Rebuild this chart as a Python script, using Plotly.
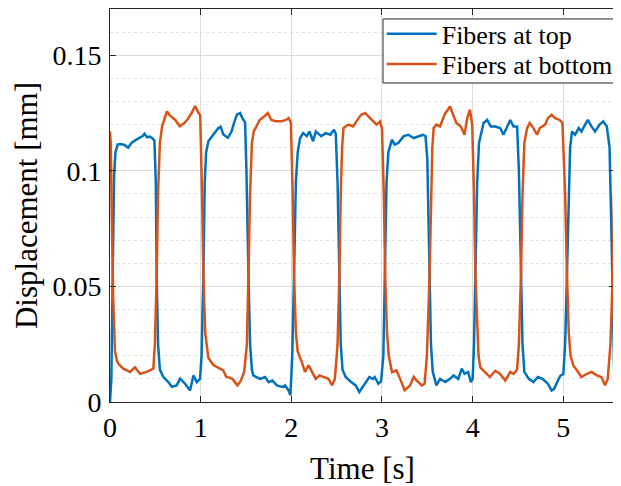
import plotly.graph_objects as go

# ---- data ----
t_top = [0.000, 0.015, 0.030, 0.045, 0.060, 0.085, 0.12, 0.16, 0.20, 0.24, 0.29, 0.33, 0.36, 0.38, 0.41, 0.44, 0.47, 0.49,
         0.505, 0.515, 0.53, 0.55, 0.589, 0.644, 0.681, 0.736, 0.773, 0.828, 0.883, 0.92, 0.957, 0.993,
         1.01, 1.03, 1.045, 1.06, 1.085, 1.14, 1.196, 1.22, 1.25, 1.30, 1.34, 1.37, 1.40, 1.435, 1.46, 1.49,
         1.505, 1.527, 1.545, 1.565, 1.58, 1.656, 1.71, 1.75, 1.79, 1.84, 1.90, 1.93, 1.97, 1.99,
         2.01, 2.03, 2.05, 2.07, 2.097, 2.13, 2.17, 2.20, 2.24, 2.27, 2.33, 2.38, 2.43, 2.47, 2.49,
         2.51, 2.53, 2.545, 2.565, 2.60, 2.66, 2.71, 2.75, 2.80, 2.86, 2.90, 2.92, 2.96, 2.99,
         3.015, 3.035, 3.05, 3.07, 3.11, 3.14, 3.18, 3.24, 3.29, 3.35, 3.40, 3.45, 3.48,
         3.50, 3.525, 3.54, 3.56, 3.60, 3.64, 3.70, 3.75, 3.79, 3.84, 3.88, 3.91, 3.95, 3.98,
         4.00, 4.015, 4.03, 4.05, 4.07, 4.12, 4.16, 4.20, 4.25, 4.305, 4.34, 4.38, 4.415, 4.45, 4.49,
         4.51, 4.533, 4.55, 4.57, 4.62, 4.67, 4.72, 4.77, 4.83, 4.87, 4.90, 4.94, 4.97,
         5.00, 5.02, 5.04, 5.06, 5.075, 5.096, 5.13, 5.17, 5.20, 5.24, 5.27, 5.31, 5.35, 5.40, 5.44, 5.48,
         5.51, 5.53, 5.545, 5.56, 5.58, 5.60]
d_top = [0.000, 0.010, 0.055, 0.098, 0.108, 0.1114, 0.1116, 0.1112, 0.1100, 0.1122, 0.1135, 0.1143, 0.1150, 0.1160, 0.1145, 0.1148, 0.1140, 0.1130,
         0.095, 0.055, 0.025, 0.014, 0.0108, 0.0086, 0.0066, 0.0072, 0.0101, 0.0079, 0.0050, 0.0115, 0.0086, 0.0100,
         0.020, 0.055, 0.095, 0.108, 0.1128, 0.1157, 0.1185, 0.1190, 0.1157, 0.1143, 0.1170, 0.1210, 0.1243, 0.1250, 0.1228, 0.1210,
         0.100, 0.055, 0.025, 0.014, 0.0115, 0.0100, 0.0108, 0.0086, 0.0093, 0.0072, 0.0065, 0.0072, 0.0050, 0.0029,
         0.020, 0.055, 0.095, 0.108, 0.1142, 0.1163, 0.1150, 0.1170, 0.1128, 0.1170, 0.1150, 0.1163, 0.1156, 0.1178, 0.1160,
         0.095, 0.055, 0.025, 0.014, 0.0108, 0.0086, 0.0072, 0.0043, 0.0072, 0.0108, 0.0100, 0.0108, 0.0079, 0.0090,
         0.020, 0.055, 0.095, 0.108, 0.1135, 0.1113, 0.1120, 0.1150, 0.1156, 0.1142, 0.1150, 0.1156, 0.1150,
         0.105, 0.055, 0.025, 0.013, 0.0072, 0.0100, 0.0086, 0.0100, 0.0115, 0.0100, 0.0144, 0.0122, 0.0130, 0.0086,
         0.010, 0.025, 0.055, 0.095, 0.112, 0.1207, 0.1220, 0.1192, 0.1192, 0.1185, 0.1156, 0.1192, 0.1220, 0.1192, 0.1192,
         0.100, 0.055, 0.025, 0.013, 0.0100, 0.0086, 0.0108, 0.0100, 0.0079, 0.0050, 0.0057, 0.0093, 0.0115,
         0.012, 0.025, 0.055, 0.095, 0.110, 0.1170, 0.1156, 0.1185, 0.1170, 0.1200, 0.1220, 0.1192, 0.1170, 0.1200, 0.1214, 0.1192,
         0.110, 0.075, 0.040, 0.015, 0.006, 0.007]

t_bot = [0.000, 0.008, 0.020, 0.035, 0.055, 0.075, 0.092, 0.147, 0.221, 0.276, 0.331, 0.405, 0.478,
         0.495, 0.515, 0.53, 0.55, 0.575, 0.628, 0.66, 0.72, 0.77, 0.82, 0.86, 0.90, 0.938, 0.97, 0.995,
         1.015, 1.03, 1.05, 1.07, 1.085, 1.14, 1.20, 1.25, 1.28, 1.35, 1.405, 1.44, 1.48,
         1.51, 1.527, 1.545, 1.565, 1.585, 1.616, 1.65, 1.70, 1.74, 1.78, 1.83, 1.89, 1.94, 1.97, 1.995,
         2.015, 2.03, 2.05, 2.07, 2.116, 2.15, 2.19, 2.22, 2.27, 2.31, 2.36, 2.41, 2.45, 2.48,
         2.51, 2.53, 2.545, 2.56, 2.575, 2.63, 2.68, 2.72, 2.77, 2.815, 2.87, 2.90, 2.94, 2.98, 3.00,
         3.02, 3.035, 3.055, 3.075, 3.11, 3.16, 3.20, 3.25, 3.31, 3.35, 3.38, 3.44, 3.47,
         3.495, 3.525, 3.54, 3.555, 3.57, 3.60, 3.64, 3.69, 3.75, 3.78, 3.82, 3.87, 3.91, 3.94, 3.97, 3.995,
         4.015, 4.03, 4.05, 4.065, 4.084, 4.14, 4.19, 4.25, 4.30, 4.36, 4.415, 4.45, 4.49,
         4.51, 4.533, 4.55, 4.57, 4.60, 4.63, 4.67, 4.71, 4.74, 4.80, 4.83, 4.87, 4.91, 4.96, 4.99,
         5.02, 5.04, 5.06, 5.08, 5.11, 5.15, 5.20, 5.26, 5.31, 5.37, 5.42, 5.46, 5.49,
         5.52, 5.545, 5.56, 5.575, 5.59, 5.60]
d_bot = [0.1170, 0.1120, 0.080, 0.045, 0.022, 0.018, 0.0165, 0.0144, 0.0130, 0.0150, 0.0122, 0.0130, 0.0144,
         0.025, 0.055, 0.090, 0.112, 0.1193, 0.1257, 0.1240, 0.1220, 0.1193, 0.1207, 0.1225, 0.1250, 0.1280, 0.1255, 0.1240,
         0.090, 0.055, 0.030, 0.022, 0.0190, 0.0160, 0.0147, 0.0137, 0.0110, 0.0100, 0.0072, 0.0090, 0.0130,
         0.025, 0.055, 0.090, 0.112, 0.1170, 0.1192, 0.1220, 0.1235, 0.1250, 0.1220, 0.1214, 0.1214, 0.1220, 0.1228, 0.1210,
         0.090, 0.055, 0.030, 0.022, 0.0172, 0.0130, 0.0158, 0.0137, 0.0100, 0.0115, 0.0108, 0.0100, 0.0072, 0.0100,
         0.025, 0.055, 0.090, 0.110, 0.1185, 0.1200, 0.1192, 0.1214, 0.1243, 0.1250, 0.1228, 0.1214, 0.1200, 0.1214, 0.1180,
         0.090, 0.055, 0.030, 0.020, 0.0129, 0.0137, 0.0100, 0.0050, 0.0072, 0.0108, 0.0093, 0.0072, 0.0079,
         0.020, 0.055, 0.090, 0.110, 0.1185, 0.1200, 0.1192, 0.1243, 0.1278, 0.1250, 0.1207, 0.1192, 0.1156, 0.1228, 0.1264, 0.1200,
         0.090, 0.055, 0.030, 0.020, 0.0150, 0.0130, 0.0108, 0.0135, 0.0122, 0.0093, 0.0130, 0.0122, 0.0140,
         0.025, 0.055, 0.090, 0.112, 0.1185, 0.1207, 0.1185, 0.1156, 0.1185, 0.1200, 0.1228, 0.1243, 0.1228, 0.1220, 0.1207,
         0.090, 0.055, 0.030, 0.020, 0.0158, 0.0137, 0.0108, 0.0122, 0.0130, 0.0115, 0.0108, 0.0072, 0.0100,
         0.025, 0.055, 0.090, 0.112, 0.118, 0.120]

series_names = ["Fibers at top", "Fibers at bottom"]
x_ticks = [0, 1, 2, 3, 4, 5]
y_ticks = [0, 0.05, 0.1, 0.15]
y_tick_labels = ["0", "0.05", "0.1", "0.15"]

FONT = "Liberation Serif"
AX = "#262626"
GRID = "#dcdcdc"

fig = go.Figure()
fig.add_trace(go.Scatter(x=t_top, y=d_top, mode="lines", name=series_names[0],
                         line=dict(color="#0072BD", width=2.5), legend="legend"))
fig.add_trace(go.Scatter(x=t_bot, y=d_bot, mode="lines", name=series_names[1],
                         line=dict(color="#D95319", width=2.5), legend="legend2"))

leg_common = dict(xanchor="left", yanchor="middle", bgcolor="rgba(0,0,0,0)", borderwidth=0,
                  font=dict(family=FONT, size=26, color="#000000"), itemwidth=50)

# page body has an 8px margin, so the figure is shrunk by 8px and margins shifted
fig.update_layout(
    width=613, height=478,
    margin=dict(l=102, r=6, t=1, b=84),
    paper_bgcolor="white", plot_bgcolor="white",
    font=dict(family=FONT, size=28, color="#262626"),
    showlegend=True,
    legend=dict(x=0.538, y=0.937, **leg_common),
    legend2=dict(x=0.538, y=0.860, **leg_common),
    shapes=[dict(type="rect", xref="paper", yref="paper", x0=0.5406, x1=1.0, y0=0.8117, y1=0.9746,
                 fillcolor="white", line=dict(color=AX, width=1), layer="above")],
)
fig.update_xaxes(
    range=[0, 5.57], tickvals=x_ticks, ticks="inside", ticklen=6, tickcolor=AX,
    showline=True, linecolor=AX, linewidth=1, mirror="ticks",
    showgrid=True, gridcolor=GRID, gridwidth=1, zeroline=False, automargin=False,
    title=dict(text="Time [s]", font=dict(family=FONT, size=31, color="#000000"), standoff=15),
    tickfont=dict(family=FONT, size=28, color="#000000"),
)
fig.update_yaxes(
    range=[0, 0.17], tickvals=y_ticks, ticktext=y_tick_labels, ticks="inside", ticklen=6, tickcolor=AX,
    showline=True, linecolor=AX, linewidth=1, mirror="ticks",
    showgrid=True, gridcolor=GRID, gridwidth=1, zeroline=False, automargin=False,
    minor=dict(dtick=0.01, showgrid=True, gridcolor="#e2e2e2", griddash="dot", gridwidth=1, ticks=""),
    title=dict(text="Displacement [mm]", font=dict(family=FONT, size=31, color="#000000"), standoff=5),
    tickfont=dict(family=FONT, size=28, color="#000000"),
    ticklabelstandoff=2,
)

fig.write_html("out.html")
